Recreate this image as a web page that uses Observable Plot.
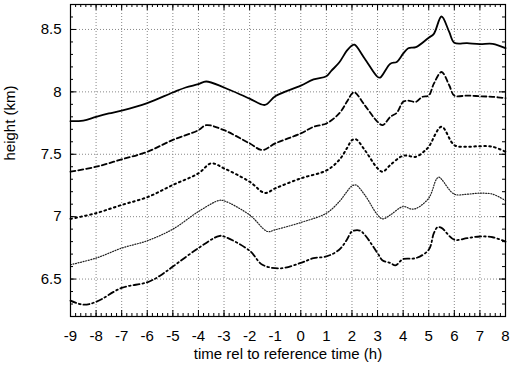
<!DOCTYPE html>
<html>
<head>
<meta charset="utf-8">
<script src="https://cdn.jsdelivr.net/npm/d3@7"></script>
<script src="https://cdn.jsdelivr.net/npm/@observablehq/plot@0.6"></script>
<style>
  html, body { margin: 0; padding: 0; background: #fff; }
  #chart svg { display: block; }
</style>
</head>
<body>
<div id="chart"></div>
<script>
// ---- data ----
const xTicks = [-9,-8,-7,-6,-5,-4,-3,-2,-1,0,1,2,3,4,5,6,7,8];
const yTicks = [6.5, 7, 7.5, 8, 8.5];
const yTickLabels = ["6.5", "7", "7.5", "8", "8.5"];
const xLabel = "time rel to reference time (h)";
const yLabel = "height (km)";

const seriesNames = ["s1", "s2", "s3", "s4", "s5"];

const s1T = [-9,-8.5,-8,-7.5,-7,-6,-5,-4.5,-4,-3.7,-3,-2,-1.4,-1,0,0.5,1,1.2,1.5,1.8,2,2.1,2.5,3,3.1,3.5,3.75,4,4.2,4.5,5,5.2,5.5,5.8,6,6.5,7,7.5,8];
const s1V = [7.765,7.77,7.80,7.827,7.85,7.91,7.995,8.035,8.062,8.083,8.035,7.946,7.895,7.965,8.05,8.10,8.125,8.17,8.235,8.33,8.372,8.378,8.266,8.12,8.114,8.226,8.24,8.306,8.35,8.358,8.434,8.465,8.604,8.48,8.394,8.39,8.383,8.385,8.35];

const s2T = [-9,-8,-7,-6,-5,-4,-3.7,-3,-2,-1.5,-1,0,0.5,1,1.5,1.8,2,2.1,2.5,3,3.2,3.5,3.75,4,4.2,4.5,4.75,5,5.2,5.5,5.8,6,6.5,7,7.5,8];
const s2V = [7.36,7.40,7.459,7.52,7.615,7.693,7.733,7.693,7.587,7.534,7.587,7.667,7.72,7.747,7.827,7.92,7.986,7.997,7.893,7.76,7.733,7.80,7.832,7.92,7.93,7.92,7.96,7.97,8.066,8.159,8.053,7.97,7.97,7.965,7.96,7.95];

const s3T = [-9,-8,-7,-6,-5,-4,-3.5,-3,-2,-1.4,-1,0,1,1.5,1.8,2,2.15,2.5,3,3.2,3.5,4,4.5,4.8,5,5.5,6,6.5,7,7.5,8];
const s3V = [6.982,7.028,7.094,7.156,7.254,7.347,7.427,7.387,7.28,7.19,7.227,7.307,7.37,7.454,7.547,7.613,7.62,7.534,7.387,7.36,7.414,7.488,7.48,7.52,7.56,7.72,7.573,7.56,7.565,7.56,7.52];

const s4T = [-9,-8,-7,-6,-5,-4,-3.2,-3,-2,-1.3,-1,0,1,1.5,1.8,2,2.15,2.5,3,3.2,3.5,4,4.3,4.5,5,5.3,5.4,5.5,6,6.5,7,7.5,8];
const s4V = [6.615,6.668,6.748,6.807,6.9,7.041,7.13,7.127,7.014,6.881,6.895,6.953,7.028,7.12,7.20,7.246,7.254,7.174,7.014,6.982,7.014,7.081,7.062,7.065,7.148,7.30,7.316,7.30,7.18,7.18,7.188,7.18,7.129];

const s5T = [-9,-8.5,-8,-7,-6,-5.5,-5,-4,-3.2,-3,-2,-1.5,-0.8,0,0.5,1,1.5,1.8,2,2.3,2.5,3,3.2,3.5,3.7,4,4.5,5,5.2,5.35,5.5,6,6.5,7,7.5,8];
const s5V = [6.327,6.295,6.317,6.429,6.474,6.527,6.60,6.748,6.845,6.841,6.727,6.615,6.586,6.629,6.668,6.681,6.735,6.815,6.881,6.889,6.854,6.708,6.649,6.629,6.61,6.66,6.668,6.735,6.868,6.916,6.91,6.815,6.828,6.841,6.835,6.80];

// ---- build table ----
const seriesT = [s1T, s2T, s3T, s4T, s5T];
const seriesV = [s1V, s2V, s3V, s4V, s5V];
const rows = [];
seriesNames.forEach((name, i) => {
  seriesT[i].forEach((t, j) => rows.push({series: name, t, v: seriesV[i][j]}));
});
const bySeries = name => rows.filter(r => r.series === name);

const xMinor = d3.range(-90, 81, 2).map(d => d / 10);
const yMinor = d3.range(62, 88, 1).map(d => d / 10);

const styles = {
  s1: {strokeWidth: 1.8, strokeDasharray: null, stroke: "black"},
  s2: {strokeWidth: 1.8, strokeDasharray: "5,3", stroke: "black"},
  s3: {strokeWidth: 2, strokeDasharray: "1.6,3.4", stroke: "black"},
  s4: {strokeWidth: 1.2, strokeDasharray: "1,1.6", stroke: "#222"},
  s5: {strokeWidth: 1.8, strokeDasharray: "6,3,1.6,3", stroke: "black"}
};

const W = 514, H = 365;
const mL = 70, mR = 9, mT = 4, mB = 49;
const frameW = W - mL - mR, frameH = H - mT - mB;
const FONT = 15;

const lineMarks = seriesNames.map(name => Plot.line(bySeries(name), {
  x: "t", y: "v", curve: "catmull-rom",
  stroke: styles[name].stroke,
  strokeWidth: styles[name].strokeWidth,
  strokeDasharray: styles[name].strokeDasharray
}));

const chart = Plot.plot({
  width: W, height: H,
  marginLeft: mL, marginRight: mR, marginTop: mT, marginBottom: mB,
  style: {fontFamily: "'Liberation Sans', Arial, Helvetica, sans-serif", fontSize: FONT + "px", color: "#000", background: "#fff"},
  x: {domain: [-9, 8]},
  y: {domain: [6.2, 8.7]},
  marks: [
    Plot.gridX(xTicks, {stroke: "#888", strokeOpacity: 1, strokeDasharray: "1,2", strokeWidth: 1}),
    Plot.gridY(yTicks, {stroke: "#888", strokeOpacity: 1, strokeDasharray: "1,2", strokeWidth: 1}),
    // minor ticks, inside frame, all four sides
    Plot.tickX(xMinor, {x: d => d, insetTop: frameH - 3, stroke: "black"}),
    Plot.tickX(xMinor, {x: d => d, insetBottom: frameH - 3, stroke: "black"}),
    Plot.tickY(yMinor, {y: d => d, insetRight: frameW - 3, stroke: "black"}),
    Plot.tickY(yMinor, {y: d => d, insetLeft: frameW - 3, stroke: "black"}),
    // major ticks
    Plot.tickX(xTicks, {x: d => d, insetTop: frameH - 6, stroke: "black"}),
    Plot.tickX(xTicks, {x: d => d, insetBottom: frameH - 6, stroke: "black"}),
    Plot.tickY(yTicks, {y: d => d, insetRight: frameW - 6, stroke: "black"}),
    Plot.tickY(yTicks, {y: d => d, insetLeft: frameW - 6, stroke: "black"}),
    ...lineMarks,
    Plot.axisX(xTicks, {tickSize: 0, tickPadding: 14, label: null, fontSize: FONT, tickFormat: d => String(d)}),
    Plot.axisY(yTicks, {tickSize: 0, tickPadding: 9, label: null, fontSize: FONT, tickFormat: d => yTickLabels[yTicks.indexOf(d)]}),
    Plot.frame({stroke: "black", strokeWidth: 1.2}),
    Plot.text([xLabel], {frameAnchor: "bottom", dy: 42, fontSize: FONT, fill: "black"}),
    Plot.text([yLabel], {frameAnchor: "left", dx: -60, rotate: -90, fontSize: FONT, fill: "black"})
  ]
});
document.getElementById("chart").appendChild(chart);
</script>
</body>
</html>
